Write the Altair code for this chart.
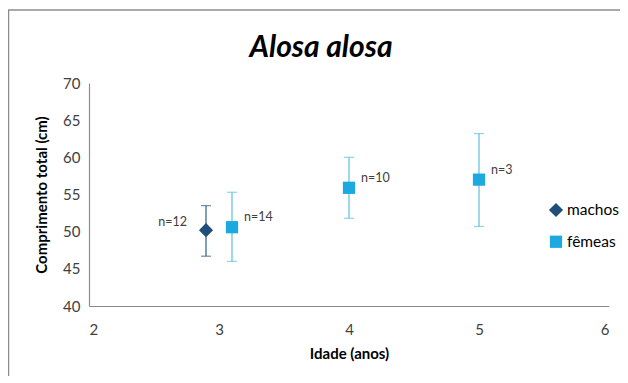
import altair as alt
import pandas as pd

# ---- data ----
series = ["machos", "fêmeas", "fêmeas", "fêmeas"]
idade = [2.9, 3.1, 4.0, 5.0]
comprimento = [50.2, 50.6, 55.9, 57.0]
erro_inf = [46.7, 46.0, 51.8, 50.7]
erro_sup = [53.5, 55.3, 60.0, 63.2]
n_labels = ["n=12", "n=14", "n=10", "n=3"]

x_ticks = [2, 3, 4, 5, 6]
y_ticks = [40, 45, 50, 55, 60, 65, 70]
title_text = ["Alosa alosa"]

df = pd.DataFrame({
    "series": series,
    "idade": idade,
    "comp": comprimento,
    "lo": erro_inf,
    "hi": erro_sup,
    "n": n_labels,
})

FONT = "Lato"
domain = ["machos", "fêmeas"]
point_colors = ["#1F4E79", "#1BA9E0"]
err_cond = alt.condition(alt.datum.series == "machos", alt.value("#2D5C8C"), alt.value("#5CC0DF"))

x_scale = alt.Scale(domain=[2, 6], nice=False, zero=False)
y_scale = alt.Scale(domain=[40, 70], nice=False, zero=False)
x_axis = alt.Axis(values=x_ticks, title="Idade (anos)", format="d", labelOverlap=False)
y_axis = alt.Axis(values=y_ticks, title="Comprimento total (cm)", format="d",
                  labelOverlap=False, tickCount=7)

base = alt.Chart(df)

rules = base.mark_rule(strokeWidth=1.2).encode(
    x=alt.X("idade:Q", scale=x_scale, axis=x_axis),
    y=alt.Y("lo:Q", scale=y_scale, axis=y_axis),
    y2="hi:Q",
    color=err_cond,
)
caps_hi = base.mark_tick(orient="horizontal", size=10, thickness=1.2).encode(
    x="idade:Q", y="hi:Q", color=err_cond
)
caps_lo = base.mark_tick(orient="horizontal", size=10, thickness=1.2).encode(
    x="idade:Q", y="lo:Q", color=err_cond
)

points = base.mark_point(filled=True, opacity=1).encode(
    x="idade:Q",
    y="comp:Q",
    color=alt.Color("series:N", scale=alt.Scale(domain=domain, range=point_colors),
                    legend=alt.Legend(title=None, orient="none", legendX=459, legendY=119)),
    shape=alt.Shape("series:N", scale=alt.Scale(domain=domain, range=["diamond", "square"]),
                    legend=alt.Legend(title=None, orient="none", legendX=459, legendY=119)),
    size=alt.Size("series:N", scale=alt.Scale(domain=domain, range=[200, 150]), legend=None),
)

labels_left = base.transform_filter(alt.datum.series == "machos").mark_text(
    align="right", baseline="middle", dx=-19, dy=-8, fontSize=12.5, font=FONT, color="#404040"
).encode(x="idade:Q", y="comp:Q", text="n:N")

labels_right = base.transform_filter(alt.datum.series != "machos").mark_text(
    align="left", baseline="middle", dx=12, dy=-10, fontSize=12.5, font=FONT, color="#404040"
).encode(x="idade:Q", y="comp:Q", text="n:N")

title_mark = alt.Chart(alt.Data(values=[{"t": t} for t in title_text])).mark_text(
    align="center", baseline="alphabetic", fontSize=30, font=FONT, fontStyle="italic",
    fontWeight="bold", color="#000000"
).encode(x=alt.value(232), y=alt.value(-26), text="t:N")

frame_data = alt.Data(values=[{"a": 1}])
frame_top = alt.Chart(frame_data).mark_rule(color="#8c8c8c", strokeWidth=1.5).encode(
    x=alt.value(-81), x2=alt.value(535), y=alt.value(-73)
)
frame_left = alt.Chart(frame_data).mark_rule(color="#8c8c8c", strokeWidth=1.5).encode(
    x=alt.value(-80.5), y=alt.value(-73), y2=alt.value(300)
)

chart = alt.layer(
    rules, caps_hi, caps_lo, points, labels_left, labels_right, title_mark, frame_top, frame_left
).properties(
    width=520,
    height=223,
    autosize=alt.AutoSizeParams(type="none"),
    padding={"left": 81, "top": 75, "right": 11, "bottom": 70},
).configure_view(
    stroke=None
).configure_axis(
    domainColor="#8c8c8c",
    domainWidth=1.2,
    ticks=False,
    grid=False,
    labelFont=FONT,
    labelFontSize=15,
    labelColor="#404040",
    titleFont=FONT,
    titleFontSize=15,
    titleFontWeight="bold",
    titleColor="#000000",
).configure_axisX(
    labelPadding=16, titlePadding=9
).configure_axisY(
    labelPadding=9, titlePadding=13
).configure_legend(
    labelFont=FONT, labelFontSize=15.5, labelColor="#000000",
    symbolSize=85, rowPadding=15, labelOffset=3, padding=0
)

chart.save("out.html", embed_options={"renderer": "svg", "actions": False})
